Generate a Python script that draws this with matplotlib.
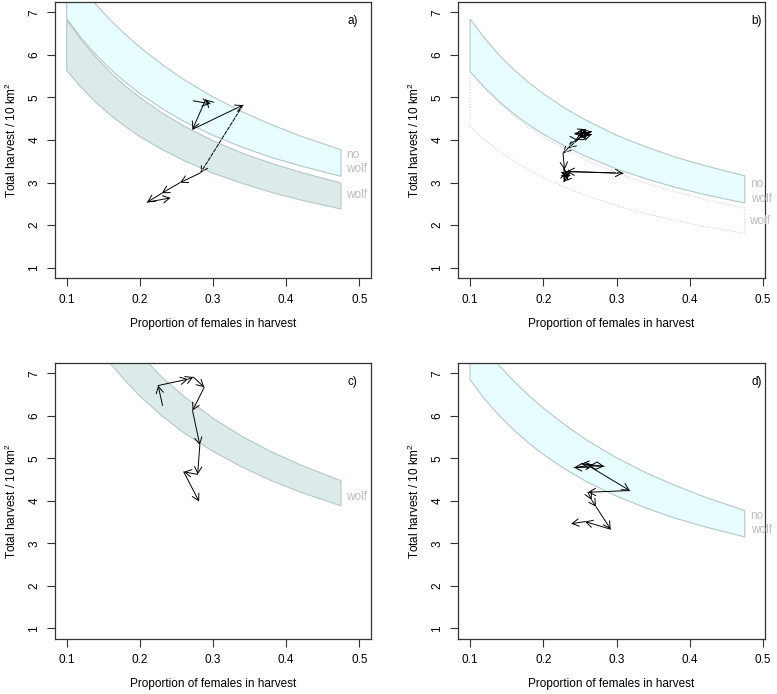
import matplotlib
matplotlib.use("Agg")
import matplotlib.pyplot as plt
from matplotlib.patches import FancyArrowPatch

plt.rcParams['font.family'] = ['Liberation Sans', 'DejaVu Sans']
plt.rcParams['mathtext.fontset'] = 'custom'
plt.rcParams['mathtext.rm'] = 'Liberation Sans'
plt.rcParams['mathtext.it'] = 'Liberation Sans:italic'

# ----------------------------
# band edges
# ----------------------------
prop = [0.10, 0.12, 0.14, 0.16, 0.18, 0.20, 0.23, 0.26, 0.30, 0.34, 0.38, 0.42, 0.475]

# panels a) and d): no wolf band
nowolf_hi = [8.05, 7.59, 7.18, 6.81, 6.48, 6.18, 5.78, 5.42, 5.01, 4.66, 4.36, 4.09, 3.77]
nowolf_lo = [6.85, 6.39, 6.00, 5.66, 5.36, 5.09, 4.74, 4.44, 4.11, 3.83, 3.59, 3.39, 3.15]
# panel a): wolf band
wolf_hi = [6.82, 6.35, 5.94, 5.58, 5.27, 5.00, 4.64, 4.33, 3.98, 3.69, 3.45, 3.24, 2.99]
wolf_lo = [5.63, 5.23, 4.88, 4.58, 4.32, 4.08, 3.78, 3.52, 3.22, 2.98, 2.77, 2.59, 2.38]
# panel b)
b_nowolf_hi = [6.84, 6.39, 5.99, 5.65, 5.35, 5.09, 4.74, 4.45, 4.11, 3.84, 3.60, 3.40, 3.16]
b_nowolf_lo = [5.61, 5.23, 4.90, 4.61, 4.36, 4.14, 3.85, 3.60, 3.32, 3.09, 2.89, 2.72, 2.52]
b_wolf_hi = [5.61, 5.21, 4.87, 4.57, 4.31, 4.08, 3.78, 3.52, 3.23, 2.99, 2.78, 2.61, 2.40]
b_wolf_lo = [4.31, 4.00, 3.74, 3.50, 3.30, 3.12, 2.89, 2.68, 2.46, 2.27, 2.11, 1.97, 1.81]
# panel c)
c_wolf_hi = [10.15, 9.45, 8.84, 8.32, 7.86, 7.45, 6.91, 6.46, 5.94, 5.51, 5.15, 4.84, 4.47]
c_wolf_lo = [8.81, 8.20, 7.68, 7.22, 6.82, 6.46, 6.00, 5.60, 5.16, 4.79, 4.47, 4.20, 3.88]

# ----------------------------
# trajectories (proportion of females, harvest)
# ----------------------------
a_x = [0.273, 0.296, 0.290, 0.272, 0.341, 0.283, 0.255, 0.230, 0.210, 0.242]
a_y = [4.92, 4.85, 4.95, 4.25, 4.82, 3.23, 3.00, 2.75, 2.54, 2.64]
a_dash = [4]

b_x = [0.256, 0.262, 0.243, 0.258, 0.251, 0.266, 0.248, 0.255, 0.266, 0.244, 0.247,
       0.234, 0.227, 0.229, 0.233, 0.226, 0.236, 0.228, 0.231, 0.309, 0.232, 0.227]
b_y = [4.12, 4.18, 4.14, 4.25, 4.06, 4.13, 4.10, 4.15, 4.20, 4.00, 4.00,
       3.81, 3.69, 3.30, 3.10, 3.24, 3.18, 3.02, 3.26, 3.22, 3.26, 3.13]
b_dash = [10, 11]

c_x = [0.231, 0.225, 0.266, 0.273, 0.288, 0.272, 0.282, 0.279, 0.260, 0.281]
c_y = [6.24, 6.71, 6.86, 6.91, 6.67, 6.12, 5.31, 4.62, 4.68, 3.98]
c_dash = []

d_x = [0.262, 0.242, 0.268, 0.252, 0.283, 0.262, 0.318, 0.261, 0.266, 0.272, 0.292, 0.257, 0.238]
d_y = [4.79, 4.78, 4.84, 4.87, 4.81, 4.82, 4.24, 4.20, 4.02, 3.86, 3.33, 3.51, 3.46]
d_dash = []

x_ticks = [0.1, 0.2, 0.3, 0.4, 0.5]
y_ticks = [1, 2, 3, 4, 5, 6, 7]

nowolf_fill = '#E8FDFD'
wolf_fill = '#DCEBEA'
band_edge = '#B5C8C8'
label_grey = '#BDBDBD'
fs = 8.5


def band(ax, hi, lo, fill, edge, ls='-'):
    xs = prop + prop[::-1] + [prop[0]]
    ys = hi + lo[::-1] + [hi[0]]
    if fill is None:
        ax.plot(xs, ys, color=edge, lw=0.8, ls=ls)
    else:
        ax.fill(xs, ys, facecolor=fill, edgecolor=edge, lw=0.8)


def arrows(ax, xs, ys, dashed):
    for i in range(len(xs) - 1):
        ls = '--' if i in dashed else '-'
        ax.add_patch(FancyArrowPatch((xs[i], ys[i]), (xs[i + 1], ys[i + 1]),
                                     arrowstyle='->,head_length=0.6,head_width=0.33',
                                     mutation_scale=8, lw=0.7, color='black',
                                     linestyle=ls, shrinkA=0, shrinkB=0))


def setup(ax, xlim, letter, width_px):
    ax.set_xlim(xlim)
    ax.set_ylim(0.76, 7.24)
    ax.set_xticks(x_ticks)
    ax.set_xticklabels(['0.1', '0.2', '0.3', '0.4', '0.5'])
    ax.set_yticks(y_ticks)
    ax.tick_params(length=5.5, width=0.8, color='#333333', labelsize=fs, pad=6)
    ax.tick_params(axis='y', pad=5)
    for lab in ax.get_yticklabels():
        lab.set_rotation(90)
        lab.set_va('center')
    for s in ax.spines.values():
        s.set_color('#333333')
        s.set_linewidth(0.9)
    ax.set_xlabel('Proportion of females in harvest', fontsize=fs)
    ax.set_ylabel('Total harvest / 10 km$^2$', fontsize=fs)
    ax.xaxis.set_label_coords(0.5, -0.145)
    ax.yaxis.set_label_coords(-36.0 / width_px, 0.5)
    ax.text(0.491, 6.80, letter, fontsize=fs, ha='center', va='center')


fig = plt.figure(figsize=(7.77, 6.94), dpi=100)
ax_a = fig.add_axes([55 / 777, 416 / 694, 316 / 777, 276 / 694])
ax_b = fig.add_axes([458 / 777, 416 / 694, 307 / 777, 276 / 694])
ax_c = fig.add_axes([55 / 777, 55.5 / 694, 316 / 777, 275.5 / 694])
ax_d = fig.add_axes([458 / 777, 55.5 / 694, 307 / 777, 275.5 / 694])

left_lim = (0.084, 0.516)
right_lim = (0.0836, 0.5027)

# a)
band(ax_a, nowolf_hi, nowolf_lo, nowolf_fill, band_edge)
band(ax_a, wolf_hi, wolf_lo, wolf_fill, band_edge)
arrows(ax_a, a_x, a_y, a_dash)
ax_a.text(0.482, 3.49, 'no\nwolf', color=label_grey, fontsize=fs, va='center', linespacing=1.25)
ax_a.text(0.482, 2.71, 'wolf', color=label_grey, fontsize=fs, va='center')
setup(ax_a, left_lim, 'a)', 316)

# b)
band(ax_b, b_nowolf_hi, b_nowolf_lo, nowolf_fill, band_edge)
band(ax_b, b_wolf_hi, b_wolf_lo, None, '#CFCFCF', ls=':')
arrows(ax_b, b_x, b_y, b_dash)
ax_b.text(0.483, 2.79, 'no\nwolf', color=label_grey, fontsize=fs, va='center', linespacing=1.25)
ax_b.text(0.481, 2.10, 'wolf', color=label_grey, fontsize=fs, va='center')
setup(ax_b, right_lim, 'b)', 307)

# c)
band(ax_c, c_wolf_hi, c_wolf_lo, wolf_fill, band_edge)
arrows(ax_c, c_x, c_y, c_dash)
ax_c.text(0.482, 4.09, 'wolf', color=label_grey, fontsize=fs, va='center')
setup(ax_c, left_lim, 'c)', 316)

# d)
band(ax_d, nowolf_hi, nowolf_lo, nowolf_fill, band_edge)
arrows(ax_d, d_x, d_y, d_dash)
ax_d.text(0.483, 3.48, 'no\nwolf', color=label_grey, fontsize=fs, va='center', linespacing=1.25)
setup(ax_d, right_lim, 'd)', 307)

fig.savefig('out.png', dpi=100)
plt.close(fig)
